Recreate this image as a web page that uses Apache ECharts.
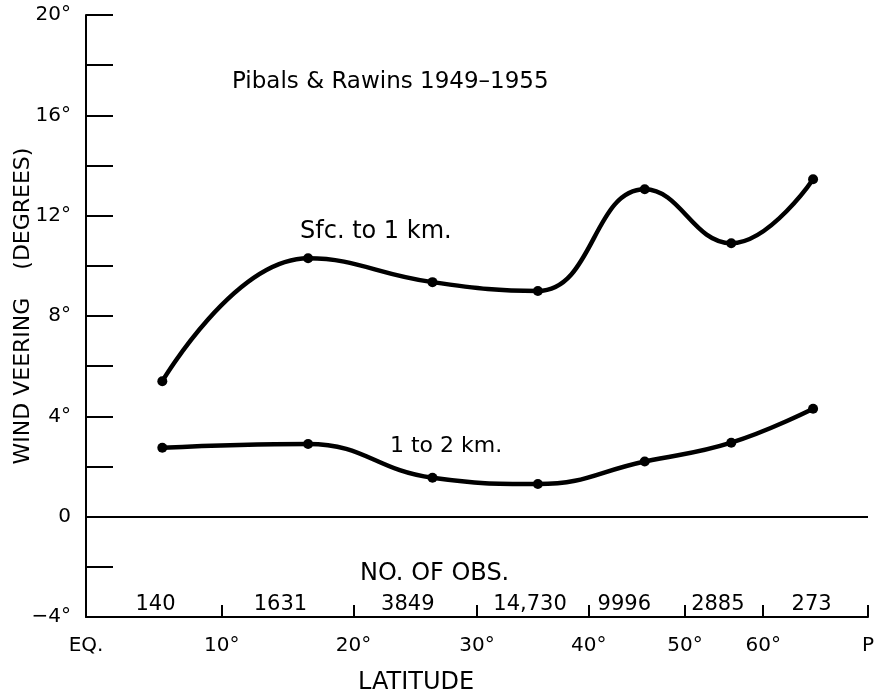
<!DOCTYPE html>
<html>
<head>
<meta charset="utf-8">
<script src="https://cdn.jsdelivr.net/npm/echarts@6/dist/echarts.min.js"></script>
<style>
html, body { margin: 0; padding: 0; background: #fff; }
#main { width: 882px; height: 696px; }
</style>
</head>
<body>
<div id="main"></div>
<script>
// latitude axis is drawn on a sine (equal-area) scale
var latTicks = [0, 10, 20, 30, 40, 50, 60, 90];
var latTickLabels = ['EQ.', '10°', '20°', '30°', '40°', '50°', '60°', 'P'];
var obsLat = [5.1, 14.4, 24.3, 34.6, 43.5, 53.9, 68.1];
var obsCounts = ['140', '1631', '3849', '14,730', '9996', '2885', '273'];
var pointLat = [5.6, 16.5, 26.3, 35.3, 45.6, 55.6, 68.4];
var sfcTo1km = [5.4, 10.3, 9.35, 9.0, 13.05, 10.9, 13.45];
var km1To2 = [2.75, 2.9, 1.55, 1.3, 2.2, 2.95, 4.3];

var FONT = 'DejaVu Sans';

function sinLat(lat) {
	return Math.sin(lat * Math.PI / 180);
}
function nearestLabel(v, lats, labels) {
	var best = 0, d = 1e9;
	for (var i = 0; i < lats.length; i++) {
		var dd = Math.abs(sinLat(lats[i]) - v);
		if (dd < d) { d = dd; best = i; }
	}
	return labels[best];
}
function pairs(lats, vals) {
	var out = [];
	for (var i = 0; i < lats.length; i++)
		out.push([sinLat(lats[i]), vals[i]]);
	return out;
}
function txt(size) {
	return size + 'px "' + FONT + '"';
}

var chart = echarts.init(document.getElementById('main'));

var option = {
	animation: false,
	backgroundColor: '#fff',
	grid: { left: 86, right: 14, top: 15, bottom: 79 },
	xAxis: [
		{
			type: 'value',
			min: 0,
			max: 1,
			position: 'bottom',
			splitLine: { show: false },
			axisLine: { onZero: false, lineStyle: { color: '#000', width: 2 } },
			axisTick: {
				inside: true,
				length: 12,
				customValues: latTicks.slice(1).map(sinLat),
				lineStyle: { color: '#000', width: 2 }
			},
			axisLabel: {
				customValues: latTicks.map(sinLat),
				margin: 19,
				color: '#000',
				fontFamily: FONT,
				fontSize: 20,
				formatter: function (v) {
					return nearestLabel(v, latTicks, latTickLabels);
				}
			}
		},
		{
			type: 'value',
			min: 0,
			max: 1,
			position: 'bottom',
			splitLine: { show: false },
			axisLine: { onZero: false, show: false },
			axisTick: { show: false },
			axisLabel: {
				inside: true,
				customValues: obsLat.map(sinLat),
				margin: 2,
				color: '#000',
				fontFamily: FONT,
				fontSize: 21,
				formatter: function (v) {
					return nearestLabel(v, obsLat, obsCounts);
				}
			}
		}
	],
	yAxis: {
		type: 'value',
		min: -4,
		max: 20,
		interval: 2,
		splitLine: { show: false },
		axisLine: { lineStyle: { color: '#000', width: 2 } },
		axisTick: { inside: true, length: 27, lineStyle: { color: '#000', width: 2 } },
		axisLabel: {
			margin: 15,
			padding: [5, 0, 0, 0],
			color: '#000',
			fontFamily: FONT,
			fontSize: 20,
			formatter: function (v) {
				if (v % 4 !== 0) return '';
				if (v === 0) return '0';
				return (v < 0 ? '\u2212' : '') + Math.abs(v) + '°';
			}
		}
	},
	series: [
		{
			name: 'Sfc. to 1 km.',
			type: 'line',
			smooth: 0.45,
			data: pairs(pointLat, sfcTo1km),
			symbol: 'circle',
			symbolSize: 10,
			itemStyle: { color: '#000' },
			lineStyle: { color: '#000', width: 4.5 },
			markLine: {
				silent: true,
				symbol: ['none', 'none'],
				label: { show: false },
				lineStyle: { color: '#000', width: 2, type: 'solid' },
				data: [{ yAxis: 0 }]
			}
		},
		{
			name: '1 to 2 km.',
			type: 'line',
			smooth: 0.45,
			data: pairs(pointLat, km1To2),
			symbol: 'circle',
			symbolSize: 10,
			itemStyle: { color: '#000' },
			lineStyle: { color: '#000', width: 4.5 }
		}
	],
	graphic: [
		{
			type: 'text', left: 232, top: 71,
			style: { text: 'Pibals & Rawins 1949\u20131955', fill: '#000', font: txt(23) }
		},
		{
			type: 'text', left: 300, top: 220,
			style: { text: 'Sfc. to 1 km.', fill: '#000', font: txt(24) }
		},
		{
			type: 'text', left: 390, top: 435,
			style: { text: '1 to 2 km.', fill: '#000', font: txt(22) }
		},
		{
			type: 'text', left: 360, top: 562,
			style: { text: 'NO. OF OBS.', fill: '#000', font: txt(24) }
		},
		{
			type: 'text', left: 358, top: 671,
			style: { text: 'LATITUDE', fill: '#000', font: txt(24) }
		},
		{
			type: 'text',
			x: 23, y: 306,
			rotation: Math.PI / 2,
			style: {
				text: 'WIND VEERING    (DEGREES)',
				fill: '#000',
				font: txt(22),
				align: 'center',
				verticalAlign: 'middle'
			}
		}
	]
};

chart.setOption(option);
</script>
</body>
</html>
